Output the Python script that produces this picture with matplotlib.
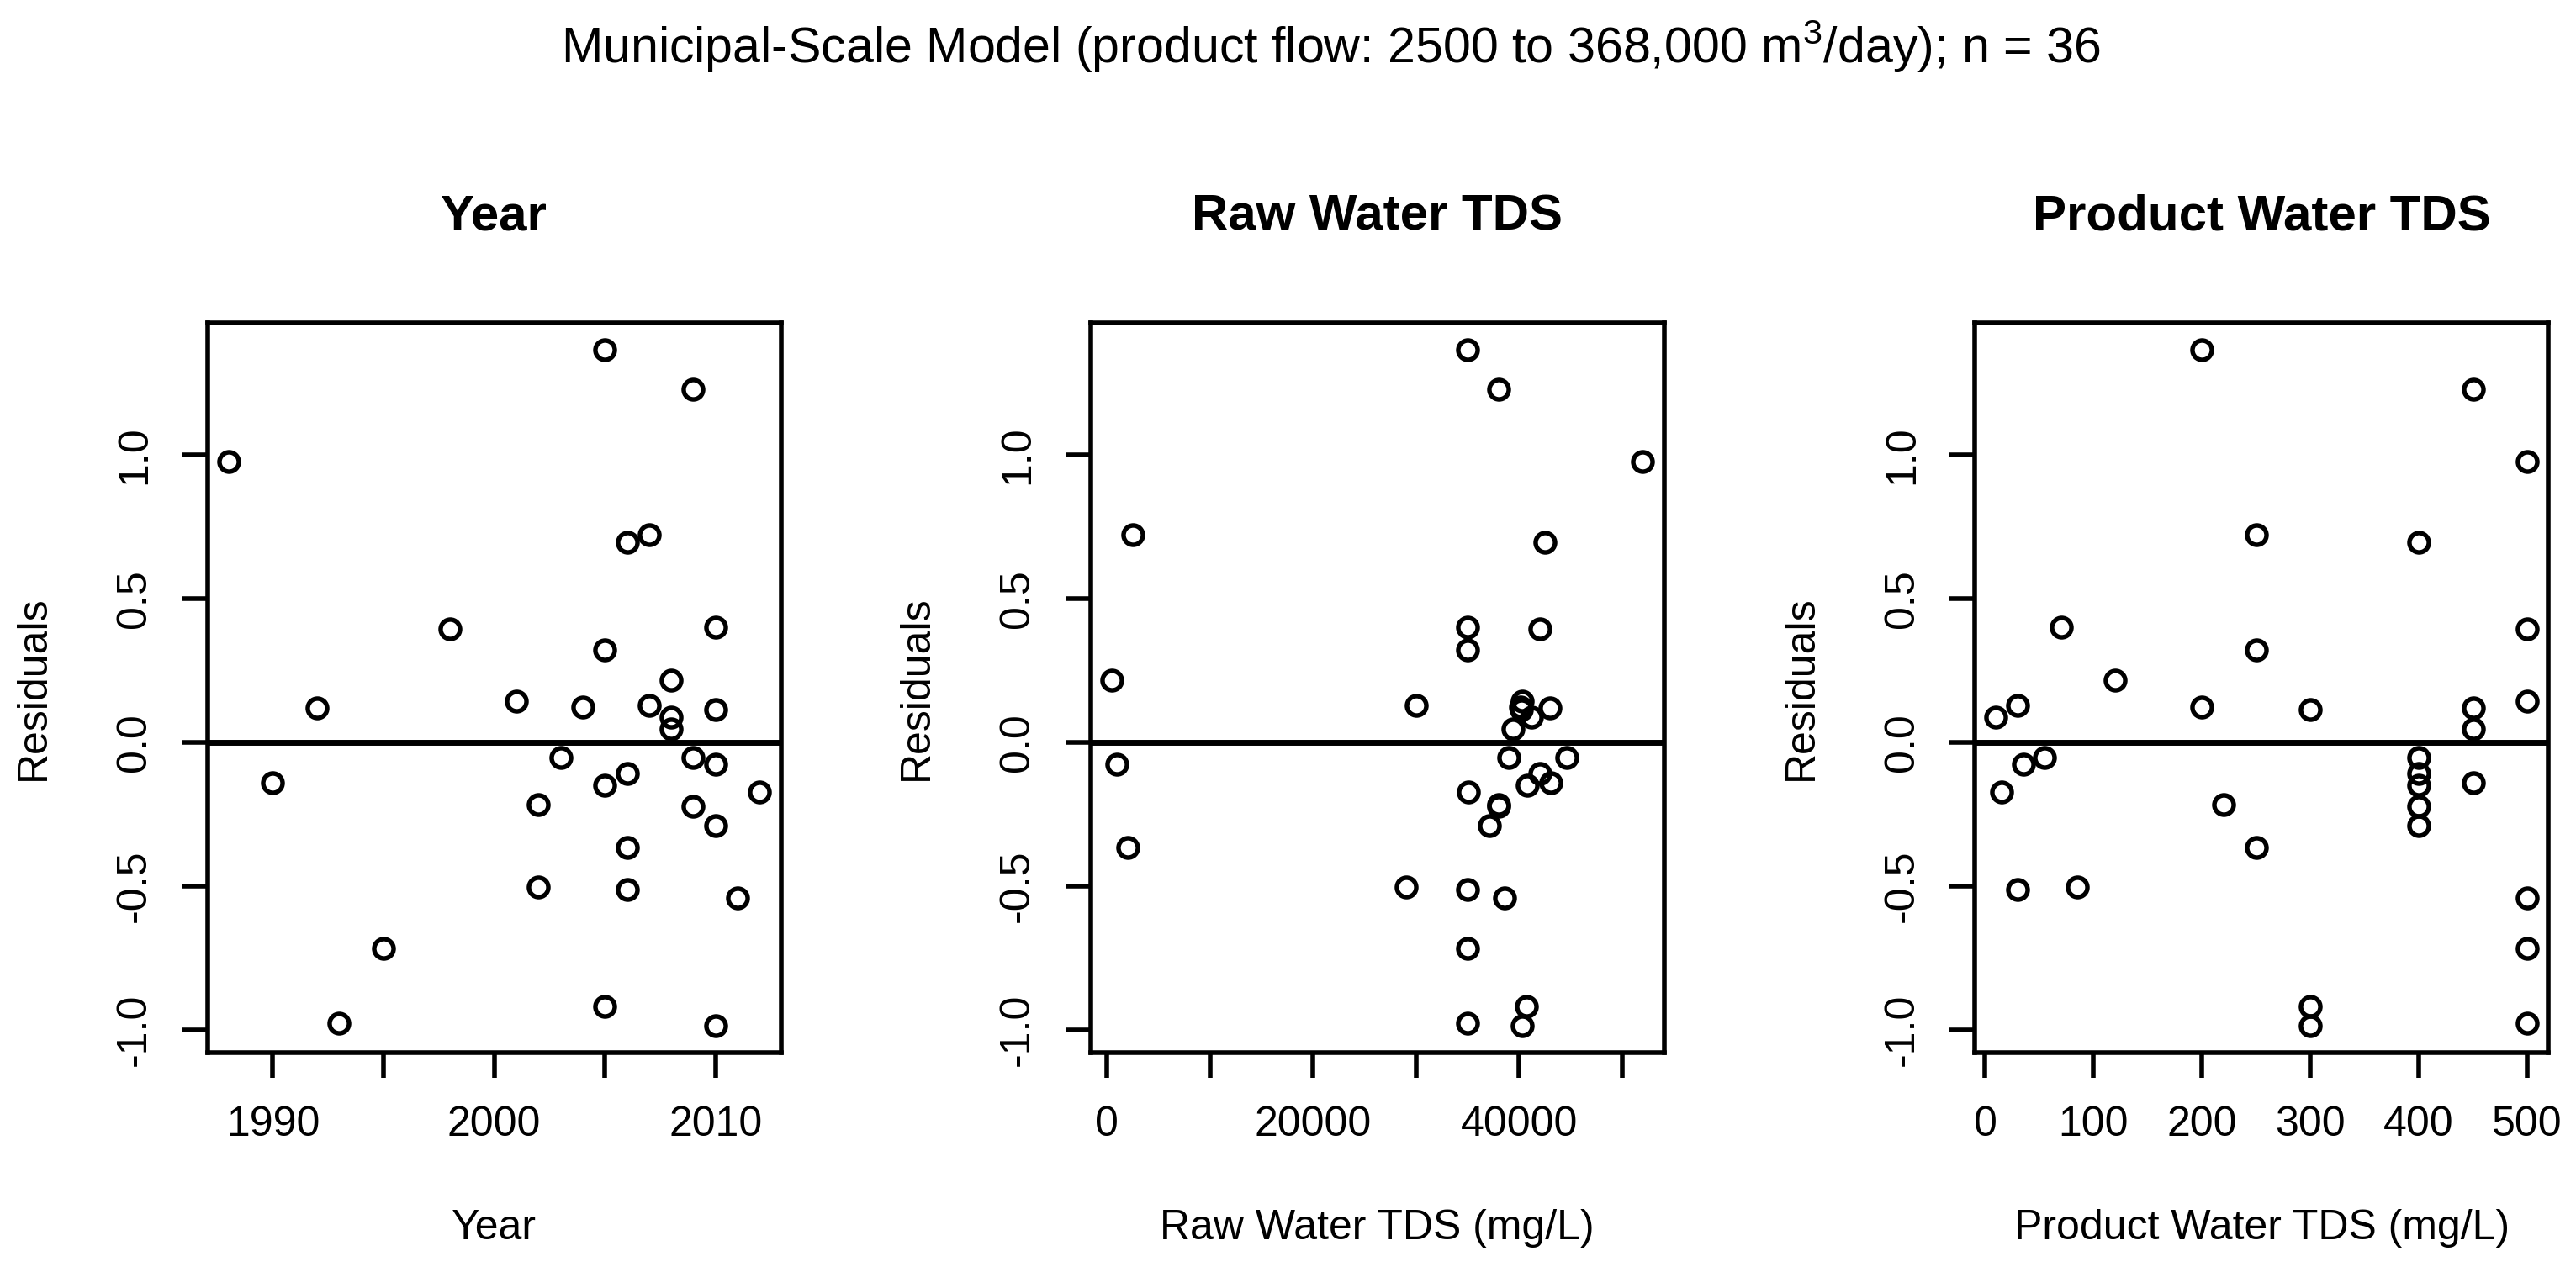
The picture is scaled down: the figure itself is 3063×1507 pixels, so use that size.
import matplotlib
matplotlib.use("Agg")
import matplotlib.pyplot as plt
import numpy as np

plt.rcParams['font.family'] = ['Liberation Sans', 'DejaVu Sans']
plt.rcParams['mathtext.fontset'] = 'custom'
plt.rcParams['mathtext.rm'] = 'Liberation Sans'
plt.rcParams['axes.unicode_minus'] = False

# data
year = [1988, 1990, 1992, 1993, 1995, 1998, 2001, 2002, 2002, 2003, 2004,
        2005, 2005, 2005, 2005, 2006, 2006, 2006, 2006, 2007, 2007, 2008,
        2008, 2008, 2009, 2009, 2009, 2010, 2010, 2010, 2010, 2010, 2011, 2012]
raw_tds = [52000, 43100, 43000, 35000, 35000, 42000, 40300, 38000, 29000,
           39000, 40100, 35000, 35000, 40800, 40700, 42500, 42000, 2000,
           35000, 2500, 30000, 450, 41200, 39400, 38000, 44600, 38000, 35000,
           40200, 950, 37100, 40300, 38600, 35100]
prod_tds = [500, 450, 450, 500, 500, 500, 500, 220, 85, 55, 200, 200, 250,
            400, 300, 400, 400, 250, 30, 250, 30, 120, 10, 450, 450, 400,
            400, 70, 300, 35, 400, 300, 500, 15]
resid = [0.975, -0.142, 0.118, -0.977, -0.718, 0.394, 0.142, -0.218, -0.505,
         -0.053, 0.121, 1.365, 0.321, -0.151, -0.920, 0.697, -0.108, -0.365,
         -0.512, 0.723, 0.129, 0.215, 0.086, 0.046, 1.227, -0.052, -0.222,
         0.399, 0.114, -0.076, -0.290, -0.986, -0.541, -0.174]

panels = [
    ("Year", "Year", year, np.arange(1990, 2011, 5), ['1990', '', '2000', '', '2010']),
    ("Raw Water TDS", "Raw Water TDS (mg/L)", raw_tds, np.arange(0, 50001, 10000),
     ['0', '', '20000', '', '40000', '']),
    ("Product Water TDS", "Product Water TDS (mg/L)", prod_tds, np.arange(0, 501, 100),
     ['0', '100', '200', '300', '400', '500']),
]


def rlim(v):
    lo, hi = min(v), max(v)
    d = (hi - lo) * 0.04
    return lo - d, hi + d


fig = plt.figure(figsize=(15.315, 7.535), dpi=200)
lefts = [0.0805, 0.4233, 0.7666]

for left, (title, xlab, x, ticks, labels) in zip(lefts, panels):
    ax = fig.add_axes([left, 0.1692, 0.2227, 0.576])
    ax.plot(x, resid, 'o', ms=8.3, mfc='none', mec='black', mew=1.95)
    ax.axhline(0, color='black', lw=2.5)
    ax.set_xlim(rlim(x))
    ax.set_ylim(rlim(resid))
    ax.set_xticks(ticks)
    ax.set_xticklabels(labels)
    ax.set_yticks([-1.0, -0.5, 0.0, 0.5, 1.0])
    ax.set_yticklabels(['-1.0', '-0.5', '0.0', '0.5', '1.0'], rotation=90, va='center')
    ax.tick_params(length=10.8, width=2.0, labelsize=18, pad=12)
    for s in ax.spines.values():
        s.set_linewidth(2.0)
    ax.text(0.5, 1.145, title, transform=ax.transAxes, ha='center', va='center',
            fontsize=21.6, fontweight='bold')
    ax.text(0.5, -0.241, xlab, transform=ax.transAxes, ha='center', va='center',
            fontsize=18)
    ax.text(-0.303, 0.5, "Residuals", transform=ax.transAxes, ha='center', va='center',
            rotation=90, fontsize=18)

fig.text(0.5165, 0.9635, "Municipal-Scale Model (product flow: 2500 to 368,000 m$^3$/day); n = 36",
         ha='center', va='center', fontsize=21.3)

fig.savefig("out.png", dpi=200)
